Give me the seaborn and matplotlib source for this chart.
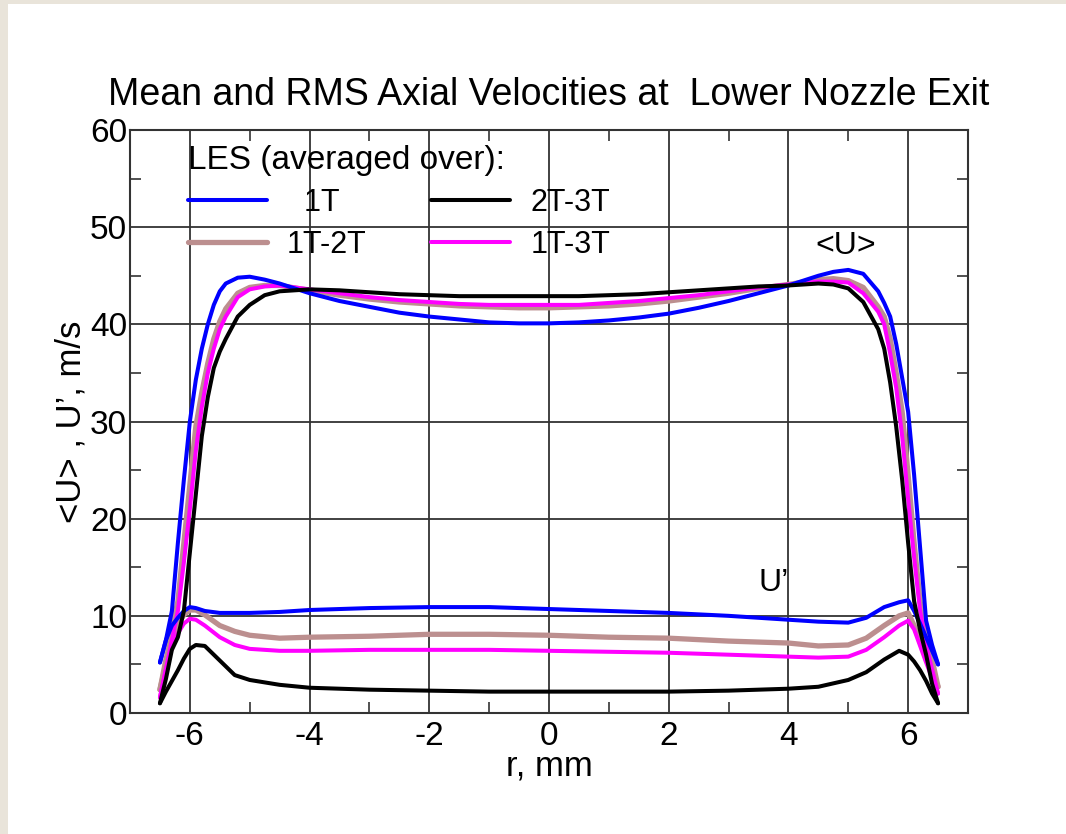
import numpy as np
import pandas as pd
import seaborn as sns
import matplotlib.pyplot as plt
from matplotlib.patches import Rectangle
from matplotlib.ticker import MultipleLocator

# radial positions, mm
r_mean = [-6.5, -6.4, -6.3, -6.2, -6.1, -6.0, -5.9, -5.8, -5.7, -5.6, -5.5, -5.4,
          -5.2, -5.0, -4.75, -4.5, -4.0, -3.5, -3.0, -2.5, -2.0, -1.5, -1.0, -0.5,
          0.0, 0.5, 1.0, 1.5, 2.0, 2.5, 3.0, 3.5, 4.0, 4.5, 4.75, 5.0,
          5.25, 5.5, 5.6, 5.7, 5.8, 5.9, 6.0, 6.1, 6.2, 6.3, 6.4, 6.5]
r_rms = [-6.5, -6.4, -6.3, -6.2, -6.1, -6.0, -5.9, -5.75, -5.5, -5.25, -5.0, -4.5,
         -4.0, -3.0, -2.0, -1.0, 0.0, 1.0, 2.0, 3.0, 4.0, 4.5, 5.0, 5.3,
         5.6, 5.85, 6.0, 6.1, 6.2, 6.3, 6.4, 6.5]

# <U>, m/s
mean_1T = [5.2, 7.5, 10.5, 17.5, 24.0, 30.0, 34.3, 37.5, 40.0, 42.0, 43.4, 44.2,
           44.8, 44.9, 44.6, 44.2, 43.2, 42.4, 41.8, 41.2, 40.8, 40.5, 40.2, 40.1,
           40.1, 40.2, 40.4, 40.7, 41.1, 41.7, 42.4, 43.2, 44.0, 45.0, 45.4, 45.6,
           45.2, 43.4, 42.2, 40.8, 38.0, 34.5, 31.0, 24.5, 17.0, 9.5, 7.0, 5.0]
mean_1T2T = [2.4, 5.0, 8.5, 11.5, 17.5, 23.5, 29.5, 33.0, 36.0, 38.5, 40.3, 41.6,
             43.2, 43.8, 44.0, 44.0, 43.5, 43.0, 42.6, 42.3, 42.1, 41.9, 41.8, 41.7,
             41.7, 41.8, 41.9, 42.1, 42.4, 42.8, 43.2, 43.7, 44.1, 44.6, 44.7, 44.5,
             43.8, 41.8, 40.8, 38.5, 35.0, 31.0, 24.5, 17.5, 11.5, 8.0, 5.5, 2.7]
mean_2T3T = [1.0, 3.5, 6.5, 7.8, 10.5, 16.5, 22.5, 28.5, 32.5, 35.5, 37.2, 38.5,
             40.8, 42.0, 43.0, 43.4, 43.6, 43.5, 43.3, 43.1, 43.0, 42.9, 42.9, 42.9,
             42.9, 42.9, 43.0, 43.1, 43.3, 43.5, 43.7, 43.9, 44.0, 44.2, 44.1, 43.7,
             42.3, 39.5, 37.5, 34.0, 29.5, 24.0, 17.5, 11.5, 8.5, 6.0, 3.0, 1.0]
mean_1T3T = [1.6, 4.5, 7.5, 10.5, 15.5, 21.0, 27.0, 31.5, 35.0, 37.5, 39.5, 40.8,
             42.8, 43.6, 43.9, 44.0, 43.6, 43.2, 42.8, 42.5, 42.3, 42.1, 42.0, 42.0,
             42.0, 42.0, 42.2, 42.4, 42.7, 43.0, 43.4, 43.8, 44.1, 44.4, 44.4, 44.3,
             43.2, 41.3, 40.0, 37.0, 33.5, 28.5, 22.0, 16.0, 10.5, 7.0, 4.5, 2.0]

# U', m/s
rms_1T = [5.2, 7.5, 9.0, 9.8, 10.5, 10.9, 10.8, 10.5, 10.3, 10.3, 10.3, 10.4,
          10.6, 10.8, 10.9, 10.9, 10.7, 10.5, 10.3, 10.0, 9.6, 9.4, 9.3, 9.8,
          10.9, 11.4, 11.6, 10.5, 9.2, 7.8, 6.4, 5.0]
rms_1T2T = [2.4, 5.5, 7.8, 9.2, 10.1, 10.6, 10.6, 10.1, 9.0, 8.4, 8.0, 7.7,
            7.8, 7.9, 8.1, 8.1, 8.0, 7.8, 7.7, 7.4, 7.2, 6.9, 7.0, 7.7,
            9.0, 10.0, 10.3, 9.0, 7.3, 5.6, 4.1, 2.7]
rms_2T3T = [1.0, 2.2, 3.3, 4.4, 5.6, 6.6, 7.0, 6.9, 5.4, 3.9, 3.4, 2.9,
            2.6, 2.4, 2.3, 2.2, 2.2, 2.2, 2.2, 2.3, 2.5, 2.7, 3.4, 4.2,
            5.5, 6.4, 6.0, 5.3, 4.4, 3.3, 2.0, 1.0]
rms_1T3T = [1.6, 4.5, 6.7, 8.2, 9.2, 9.7, 9.6, 9.0, 7.8, 7.0, 6.6, 6.4,
            6.4, 6.5, 6.5, 6.5, 6.4, 6.3, 6.2, 6.0, 5.8, 5.7, 5.8, 6.5,
            7.8, 9.0, 9.5, 8.6, 6.9, 5.2, 3.6, 2.0]

runs = ["1T", "1T-2T", "2T-3T", "1T-3T"]
means = [mean_1T, mean_1T2T, mean_2T3T, mean_1T3T]
rmss = [rms_1T, rms_1T2T, rms_2T3T, rms_1T3T]
colors = {"1T": "#0000ff", "1T-2T": "#bc8f8f", "2T-3T": "#000000", "1T-3T": "#ff00ff"}
widths = {"1T": 2.9, "1T-2T": 3.8, "2T-3T": 2.9, "1T-3T": 2.9}
zorders = {"1T": 4, "1T-2T": 2, "2T-3T": 5, "1T-3T": 3}

sns.set_style("white")
plt.rcParams["font.family"] = ["Liberation Sans", "DejaVu Sans"]
plt.rcParams["axes.unicode_minus"] = False
plt.rcParams["text.color"] = "black"
plt.rcParams["axes.labelcolor"] = "black"
plt.rcParams["xtick.color"] = "black"
plt.rcParams["ytick.color"] = "black"

fig = plt.figure(figsize=(10.66, 8.34), dpi=100)
fig.patch.set_facecolor("#e9e4da")
fig.patches.append(Rectangle((8 / 1066, 0), 1, 1 - 4 / 834, transform=fig.transFigure,
                             facecolor="white", edgecolor="none", zorder=-5))
ax = fig.add_axes([130 / 1066, 1 - 713 / 834, 838 / 1066, 583 / 834])

for run, m, s in zip(runs, means, rmss):
    sns.lineplot(x=r_mean, y=m, color=colors[run], lw=widths[run], label=run,
                 zorder=zorders[run], ax=ax, sort=False)
    sns.lineplot(x=r_rms, y=s, color=colors[run], lw=widths[run],
                 zorder=zorders[run], ax=ax, sort=False)

ax.set_xlim(-7, 7)
ax.set_ylim(0, 60)
ax.xaxis.set_major_locator(MultipleLocator(2))
ax.xaxis.set_minor_locator(MultipleLocator(1))
ax.yaxis.set_major_locator(MultipleLocator(10))
ax.yaxis.set_minor_locator(MultipleLocator(5))
ax.tick_params(which="both", direction="in", top=True, right=True, bottom=True,
               left=True, labelsize=24)
ax.tick_params(which="major", length=0)
ax.tick_params(axis="x", which="major", pad=6)
ax.tick_params(axis="y", which="major", pad=2)
ax.tick_params(which="minor", length=8, width=1.2, color="#333333")
ax.grid(True, which="major", color="#333333", lw=1.3)
ax.set_axisbelow(True)
for sp in ax.spines.values():
    sp.set_color("#333333")
    sp.set_linewidth(1.5)

ax.set_title("Mean and RMS Axial Velocities at  Lower Nozzle Exit", fontsize=27, pad=18)
ax.set_xlabel("r, mm", fontsize=25, labelpad=-2)
ax.set_ylabel("<U> , U\u2019, m/s", fontsize=25, labelpad=2)

ax.text(4.95, 48.1, "<U>", fontsize=23, ha="center", va="center")
ax.text(3.75, 13.4, "U\u2019", fontsize=23, ha="center", va="center")

handles, labels = ax.get_legend_handles_labels()
labels = ["  " + lab if lab == "1T" else lab for lab in labels]
leg = ax.legend(handles, labels, ncol=2, title="LES (averaged over):", title_fontsize=24,
                fontsize=22, frameon=False, loc="upper left", bbox_to_anchor=(0.036, 1.022),
                handlelength=2.6, handletextpad=0.65, columnspacing=2.1,
                labelspacing=0.4, alignment="left")

fig.savefig("out.png", dpi=100, facecolor=fig.get_facecolor())
